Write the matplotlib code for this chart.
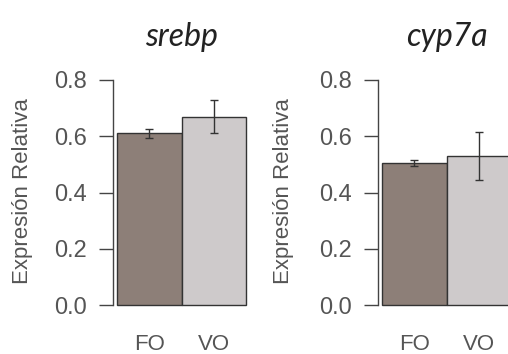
import matplotlib
matplotlib.use('Agg')
import matplotlib.pyplot as plt

# datos
genes = ['srebp', 'cyp7a']
grupos = ['FO', 'VO']
medias = {'srebp': [0.61, 0.67], 'cyp7a': [0.505, 0.53]}
errores = {'srebp': [0.016, 0.06], 'cyp7a': [0.01, 0.085]}
yticks = [0.0, 0.2, 0.4, 0.6, 0.8]

colores = ['#8d7f78', '#cecacb']

plt.rcParams['font.family'] = ['Liberation Sans', 'DejaVu Sans']

W, H = 508, 354
fig = plt.figure(figsize=(W / 100, H / 100), dpi=100)
fig.patch.set_facecolor('white')

# posiciones en píxeles: (eje izquierdo, eje inferior, centro de ylabel)
paneles = [(113, 305, 23), (378, 305, 284)]

for gen, (x0, y0, xlab) in zip(genes, paneles):
    ax = fig.add_axes([x0 / W, (H - y0) / H, 137 / W, 225 / H])
    ax.bar([0, 1], medias[gen], width=1, color=colores, edgecolor='#333333',
           linewidth=1, clip_on=False)
    ax.errorbar([0, 1], medias[gen], yerr=errores[gen], fmt='none',
                ecolor='#333333', elinewidth=1, capsize=3, capthick=1)
    ax.set_xlim(-0.562, 1.562)
    ax.set_ylim(0, 0.8)
    ax.set_yticks(yticks)
    ax.set_yticklabels(['%.1f' % v for v in yticks])
    ax.set_xticks([0, 1])
    ax.set_xticklabels(grupos)
    for s in ['top', 'right', 'bottom']:
        ax.spines[s].set_visible(False)
    ax.spines['left'].set_color('#444444')
    ax.spines['left'].set_linewidth(1)
    ax.tick_params(axis='y', length=10, width=1, color='#444444', pad=9,
                   labelsize=17, labelcolor='#555555')
    ax.tick_params(axis='x', length=0, pad=21, labelsize=16,
                   labelcolor='#555555')
    ax.set_facecolor('none')
    ax.text(0.5, (y0 - 37) / 225, gen, transform=ax.transAxes, ha='center',
            va='center', fontsize=23, style='italic', family='Lato',
            color='#222222')
    fig.text(xlab / W, (H - 191) / H, 'Expresión Relativa', rotation=90,
             ha='center', va='center', fontsize=16, color='#555555')

fig.savefig('out.png', dpi=100)
